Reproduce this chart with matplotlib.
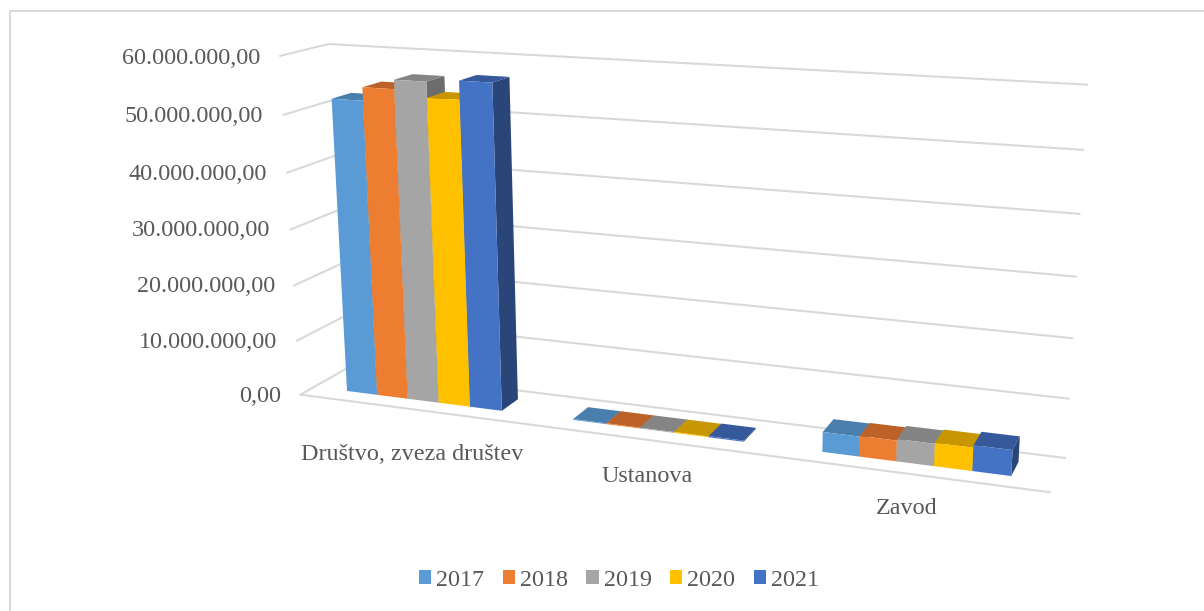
import numpy as np
import matplotlib
matplotlib.use('Agg')
import matplotlib.pyplot as plt
from matplotlib.patches import Patch
from matplotlib.lines import Line2D

categories = ['Društvo, zveza društev', 'Ustanova', 'Zavod']
years = ['2017', '2018', '2019', '2020', '2021']
v2017 = [52.4e6, 0.15e6, 3.4e6]
v2018 = [54.7e6, 0.15e6, 3.5e6]
v2019 = [56.3e6, 0.15e6, 3.75e6]
v2020 = [53.6e6, 0.15e6, 3.9e6]
v2021 = [56.8e6, 0.2e6, 4.3e6]
series = [v2017, v2018, v2019, v2020, v2021]
z_ticks = [0, 10e6, 20e6, 30e6, 40e6, 50e6, 60e6]
z_labels = ['0,00', '10.000.000,00', '20.000.000,00', '30.000.000,00',
            '40.000.000,00', '50.000.000,00', '60.000.000,00']
front = ['#5B9BD5', '#ED7D31', '#A5A5A5', '#FFC000', '#4472C4']
top = ['#4A7EAD', '#BC6128', '#848484', '#C79600', '#35599B']
side = ['#38618A', '#93501F', '#6C6C6C', '#9E7700', '#2A4678']
TXT = '#595959'
GRID = '#D9D9D9'

W, H = 1204, 611
plt.rcParams['font.family'] = ['Liberation Serif', 'DejaVu Serif']
fig = plt.figure(figsize=(W / 100, H / 100), dpi=100)
ax = fig.add_axes([0, 0, 1, 1], projection='3d')
ax.set_position([0, 0, 1, 1])
ax.apply_aspect = lambda position=None: None
ax.computed_zorder = False
ax.set_axis_off()

# camera calibration: world (cat, depth, value/1e7) -> reference pixel
calib = [
    ((0, 0, 0), (300, 396)), ((0, 0, 1), (297, 341)), ((0, 0, 2), (294, 285)),
    ((0, 0, 3), (291, 229)), ((0, 0, 4), (287, 172)), ((0, 0, 5), (284, 115)),
    ((0, 0, 6), (281, 56)),
    ((3, 1, 0), (1065, 458)), ((3, 1, 1), (1069, 398)), ((3, 1, 2), (1072, 338)),
    ((3, 1, 3), (1076, 277)), ((3, 1, 4), (1080, 214)), ((3, 1, 5), (1083, 150)),
    ((3, 1, 6), (1087, 85)),
    ((0, 1, 6), (327, 44)), ((0, 1, 0), (347, 369)), ((3, 0, 0), (1050, 492)),
    ((0.1525, .3, 0), (346.7, 391)), ((0.8475, .3, 0), (501.7, 411)),
    ((0.8475, .72, 0), (517, 399.3)), ((1.1525, .3, 0), (573, 419)),
    ((1.8475, .3, 0), (744, 442)), ((2.1525, .3, 0), (822, 452)),
    ((2.8475, .3, 0), (1011, 476)),
]
A = []
for (X, Y, Z), (u, v) in calib:
    u, v = u / 1000, v / 1000
    A.append([X, Y, Z, 1, 0, 0, 0, 0, -u * X, -u * Y, -u * Z, -u])
    A.append([0, 0, 0, 0, X, Y, Z, 1, -v * X, -v * Y, -v * Z, -v])
p = np.linalg.svd(np.array(A, float))[2][-1].reshape(3, 4)
p = p / p[2, 3]
x0, x1 = ax.viewLim.intervalx
y0, y1 = ax.viewLim.intervaly
to_data = np.array([[1000 * (x1 - x0) / W, 0, x0],
                    [0, -1000 * (y1 - y0) / H, y1],
                    [0, 0, 1]])
q = to_data @ p
# the depth row stays negative: mplot3d hides line points with depth > 0
M = np.array([q[0], q[1], [-0.03, 1, -0.02, -3], q[2]])
M = M @ np.diag([1, 1, 1e-7, 1])
ax.get_proj = lambda: M

# gridlines on walls and floor
for z in z_ticks:
    ax.plot([0, 0, 3], [0, 1, 1], [z, z, z], color=GRID, lw=1.5, zorder=1)
ax.plot([0, 3], [0, 0], [0, 0], color=GRID, lw=1.5, zorder=1)

# bars
group = 0.695
bw = group / 5
y_front, y_back = 0.30, 0.72
clear = (0, 0, 0, 0)
zo = 2
for c in range(3):
    for s in range(5):
        xb = c + (1 - group) / 2 + s * bw
        # faces: bottom, top, front, back, left, right
        cols = [clear, top[s], front[s], clear, clear, side[s]]
        ax.bar3d(xb, y_front, 0, bw, y_back - y_front, series[s][c],
                 color=cols, shade=False, linewidths=0, zorder=zo)
        zo += 1

# texts
FS = 17.4
tick_right = [281, 277, 275, 270, 267, 263, 260]
tick_y = [397, 342, 287, 231, 174, 117, 59]
for x, y, lab in zip(tick_right, tick_y, z_labels):
    fig.text(x / W, 1 - y / H, lab, ha='right', va='center', fontsize=FS, color=TXT)
cat_pos = [(412, 454), (647, 477), (907, 508)]
for (x, y), lab in zip(cat_pos, categories):
    fig.text(x / W, 1 - y / H, lab, ha='center', va='center', fontsize=FS, color=TXT)

handles = [Patch(facecolor=c, edgecolor='none') for c in front]
fig.legend(handles, years, ncol=5, loc='center', bbox_to_anchor=(619 / W, 1 - 580 / H),
           frameon=False, fontsize=FS, labelcolor=TXT, handlelength=0.5,
           handleheight=0.5, handletextpad=0.21, columnspacing=0.76,
           borderpad=0, borderaxespad=0)

# chart frame
fx = [10 / W, 10 / W, 1]
fy = [0, 1 - 11 / H, 1 - 11 / H]
fig.add_artist(Line2D(fx, fy, color=GRID, lw=1.4, transform=fig.transFigure))

fig.savefig('out.png', dpi=100)
